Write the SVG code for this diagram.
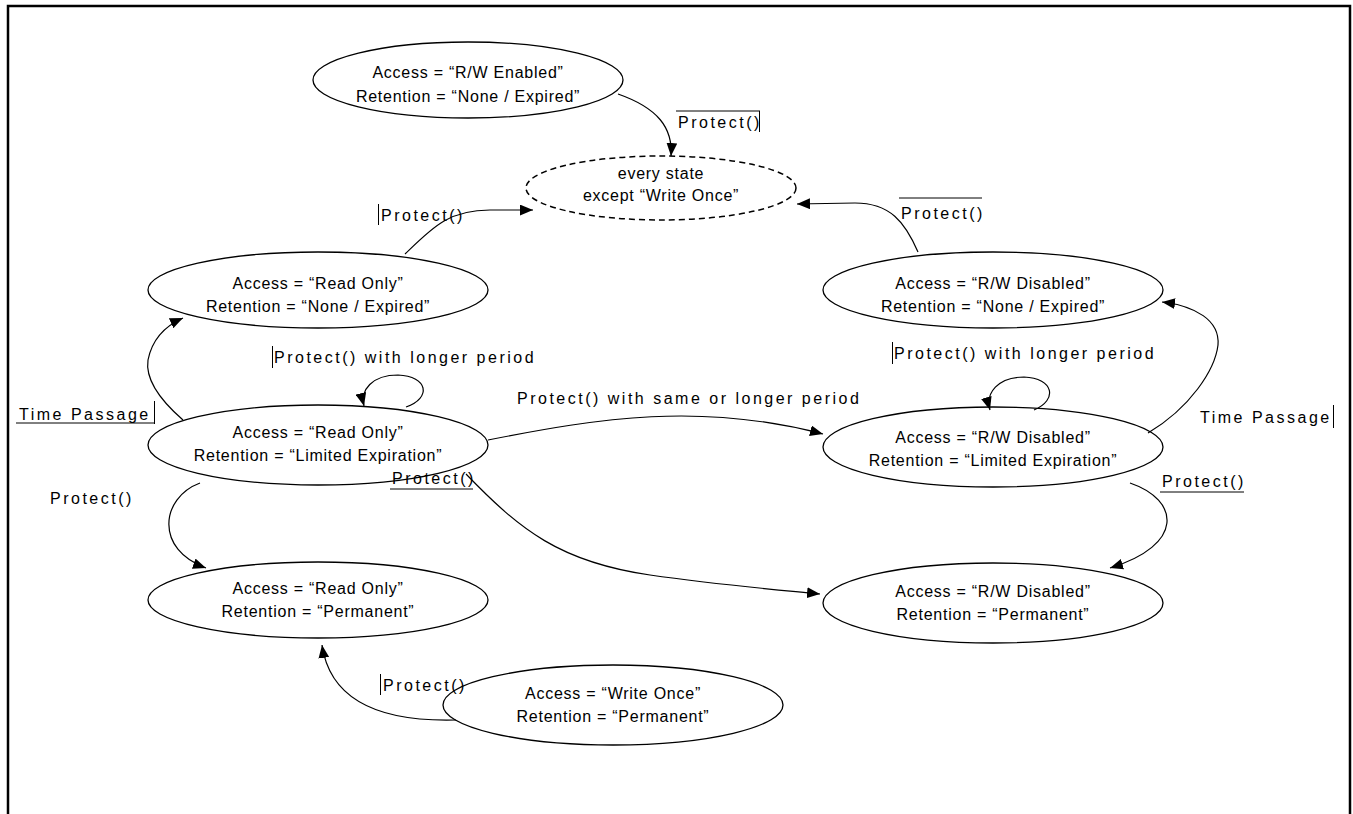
<svg xmlns="http://www.w3.org/2000/svg" width="1353" height="814" viewBox="0 0 1353 814">
<style>
.n{fill:#fff;stroke:#000;stroke-width:1.3}
.d{fill:#fff;stroke:#000;stroke-width:1.5;stroke-dasharray:6,4}
text{font-family:"Liberation Sans",Arial,sans-serif;font-size:16px;fill:#000}
.c text{text-anchor:middle;letter-spacing:0.75px}
#labels text{letter-spacing:2.5px}
.e{fill:none;stroke:#000;stroke-width:1.2}
.m{stroke:#000;stroke-width:1}
</style>
<defs>
<marker id="a" viewBox="0 0 12 10" refX="12" refY="5" markerWidth="13" markerHeight="11" markerUnits="userSpaceOnUse" orient="auto"><path d="M0,0 L12,5 L0,10 z" fill="#000"/></marker>
</defs>
<rect width="1353" height="814" fill="#fff"/>
<path d="M8,814 L8,6 L1350,6 L1350,814" fill="none" stroke="#000" stroke-width="2.5"/>

<g class="c">
<g id="n1"><ellipse class="n" cx="468" cy="80" rx="155" ry="38"/><text x="468" y="78">Access = “R/W Enabled”</text><text x="468" y="102">Retention = “None / Expired”</text></g>
<g id="n2"><ellipse class="d" cx="661" cy="188" rx="135" ry="32"/><text x="661" y="179">every state</text><text x="661" y="201">except “Write Once”</text></g>
<g id="n3"><ellipse class="n" cx="318" cy="290" rx="170" ry="38"/><text x="318" y="289">Access = “Read Only”</text><text x="318" y="312">Retention = “None / Expired”</text></g>
<g id="n4"><ellipse class="n" cx="993" cy="290" rx="170" ry="38"/><text x="993" y="289">Access = “R/W Disabled”</text><text x="993" y="312">Retention = “None / Expired”</text></g>
<g id="n5"><ellipse class="n" cx="318" cy="445" rx="170" ry="40"/><text x="318" y="438">Access = “Read Only”</text><text x="318" y="461">Retention = “Limited Expiration”</text></g>
<g id="n6"><ellipse class="n" cx="993" cy="447" rx="170" ry="40"/><text x="993" y="443">Access = “R/W Disabled”</text><text x="993" y="466">Retention = “Limited Expiration”</text></g>
<g id="n7"><ellipse class="n" cx="318" cy="600" rx="170" ry="38"/><text x="318" y="594">Access = “Read Only”</text><text x="318" y="617">Retention = “Permanent”</text></g>
<g id="n8"><ellipse class="n" cx="993" cy="603" rx="170" ry="40"/><text x="993" y="597">Access = “R/W Disabled”</text><text x="993" y="620">Retention = “Permanent”</text></g>
<g id="n9"><ellipse class="n" cx="613" cy="705" rx="170" ry="40"/><text x="613" y="699">Access = “Write Once”</text><text x="613" y="722">Retention = “Permanent”</text></g>
</g>

<g id="connectors">
<path class="e" marker-end="url(#a)" d="M618,94 C658,108 673,128 671,156"/>
<path class="e" marker-end="url(#a)" d="M405,254 C432,228 448,210 490,210 L533,210"/>
<path class="e" marker-end="url(#a)" d="M918,252 C905,222 890,203 855,203 L797,204"/>
<path class="e" marker-end="url(#a)" d="M183,420 C160,400 145,380 148,360 C152,340 165,326 183,318"/>
<path class="e" marker-end="url(#a)" d="M406,407 C432,398 428,376 398,375 C372,375 360,390 364,406"/>
<path class="e" marker-end="url(#a)" d="M1034,410 C1058,400 1054,378 1024,377 C998,377 985,393 990,410"/>
<path class="e" marker-end="url(#a)" d="M488,440 C600,418 700,402 823,434"/>
<path class="e" marker-end="url(#a)" d="M1148,433 C1190,408 1215,370 1218,345 C1220,320 1195,306 1162,302"/>
<path class="e" marker-end="url(#a)" d="M200,483 C160,498 155,550 206,568"/>
<path class="e" marker-end="url(#a)" d="M466,474 C520,530 560,562 650,575 C720,585 780,590 820,594"/>
<path class="e" marker-end="url(#a)" d="M1130,483 C1180,500 1185,545 1110,568"/>
<path class="e" marker-end="url(#a)" d="M456,720 C380,722 330,700 322,645"/>
</g>

<g id="labels">
<text x="678" y="128">Protect()</text>
<line class="m" x1="676" y1="111" x2="760" y2="111"/><line class="m" x1="759.5" y1="111" x2="759.5" y2="132"/>
<text x="381" y="221">Protect()</text>
<line class="m" x1="378.5" y1="204" x2="378.5" y2="225"/>
<text x="901" y="219">Protect()</text>
<line class="m" x1="899" y1="198" x2="982" y2="198"/>
<text x="19" y="420">Time Passage</text>
<line class="m" x1="16" y1="423" x2="155" y2="423"/><line class="m" x1="154.5" y1="401" x2="154.5" y2="424"/>
<text x="274" y="363">Protect() with longer period</text>
<line class="m" x1="272.5" y1="346" x2="272.5" y2="368"/>
<text x="894" y="359">Protect() with longer period</text>
<line class="m" x1="892.5" y1="342" x2="892.5" y2="364"/>
<text x="517" y="404">Protect() with same or longer period</text>
<text x="1200" y="423">Time Passage</text>
<line class="m" x1="1333.5" y1="405" x2="1333.5" y2="428"/>
<text x="50" y="504">Protect()</text>
<text x="392" y="484">Protect()</text>
<line class="m" x1="390" y1="489" x2="473" y2="489"/>
<text x="1162" y="487">Protect()</text>
<line class="m" x1="1160" y1="492" x2="1244" y2="492"/>
<text x="383" y="691">Protect()</text>
<line class="m" x1="380.5" y1="674" x2="380.5" y2="695"/>
</g>
</svg>
